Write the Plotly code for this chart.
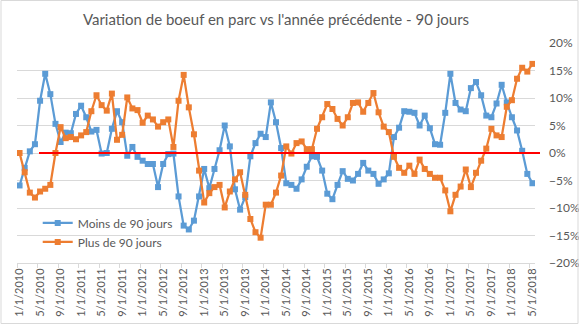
import plotly.graph_objects as go

# Monthly observations, January 2010 through May 2018
months = [f"{m}/1/{y}" for y in range(2010, 2019) for m in range(1, 13)][:101]

# Year-over-year change (%) in cattle inventory, animals under 90 days
moins_90 = [
    -5.9, -2.7, 0.3, 1.6, 9.5, 14.4, 10.7, 5.3, 2.0, 3.7,
    3.6, 7.1, 8.6, 6.5, 3.9, 4.2, -0.1, 0.0, 4.4, 7.6,
    5.6, -0.5, 1.1, -0.7, -1.4, -2.0, -2.0, -6.2, -2.0, -0.2,
    -0.1, -7.9, -13.2, -13.9, -12.3, -7.9, -2.9, -6.4, -2.9, 0.5,
    5.0, 1.2, -6.6, -10.3, -8.0, -0.6, 1.8, 3.5, 2.9, 9.2,
    5.6, 0.9, -5.5, -5.8, -6.5, -4.8, -2.5, -0.6, -0.7, -3.2,
    -7.4, -8.4, -5.8, -3.3, -4.7, -5.0, -3.8, -1.8, -3.2, -3.8,
    -5.6, -4.8, -3.7, 2.9, 4.6, 7.6, 7.5, 7.3, 5.0, 6.8,
    4.5, 1.6, 1.5, 7.3, 14.4, 9.1, 7.9, 7.6, 11.8, 12.9,
    10.5, 6.8, 6.5, 9.0, 12.4, 9.2, 6.5, 4.1, 0.4, -3.8,
    -5.5,
]

# Year-over-year change (%) in cattle inventory, animals over 90 days
plus_90 = [
    0.0, -3.5, -7.2, -8.1, -7.0, -6.5, -5.8, 0.0, 4.7, 2.7,
    2.9, 2.5, 3.2, 3.8, 7.6, 10.5, 8.7, 7.7, 10.8, 2.4,
    3.3, 10.1, 8.1, 7.8, 5.5, 6.8, 6.1, 4.8, 5.6, 6.1,
    1.1, 9.5, 14.2, 8.3, 3.4, -3.2, -9.0, -7.3, -6.2, -5.8,
    -9.9, -7.0, -4.8, -3.5, -7.6, -12.0, -14.4, -15.4, -9.4, -9.4,
    -7.2, -4.1, 1.2, -0.1, 1.8, 2.1, 0.7, 0.7, 4.4, 6.5,
    8.9, 8.0, 6.2, 5.0, 6.5, 9.1, 9.2, 7.5, 9.1, 10.9,
    7.4, 4.8, 3.8, -0.7, -2.7, -3.6, -2.3, -3.8, -1.2, -2.9,
    -3.8, -4.5, -4.5, -6.8, -10.6, -7.6, -6.1, -3.0, -6.2, -3.6,
    -1.4, 0.8, 4.4, 3.2, 2.9, 8.4, 9.6, 13.5, 15.5, 14.8,
    16.2,
]

BLUE = "#5B9BD5"
ORANGE = "#ED7D31"
GREY_TEXT = "#595959"
GRID = "#D9D9D9"
FONT = "Lato"

W, H = 579, 325
ML, MR, MT, MB = 17, 44, 43, 62
PW, PH = W - ML - MR, H - MT - MB

fig = go.Figure()
for name, vals, col in [("Moins de 90 jours", moins_90, BLUE),
                        ("Plus de 90 jours", plus_90, ORANGE)]:
    fig.add_trace(go.Scatter(
        x=months, y=vals, name=name, mode="lines+markers",
        line=dict(color=col, width=2.25),
        marker=dict(symbol="square", size=6, color=col),
    ))

# Red reference line at zero, running slightly past the right edge
fig.add_shape(type="line", xref="paper", yref="y",
              x0=(39 - ML) / PW, x1=(540 - ML) / PW, y0=0, y1=0,
              line=dict(color="#FF0000", width=2), layer="above")

# Light frame around the chart area
fig.add_shape(type="rect", xref="paper", yref="paper",
              x0=(1 - ML) / PW, x1=(W - 1 - ML) / PW,
              y0=-(MB - 1.5) / PH, y1=1 + (MT - 0.5) / PH,
              line=dict(color=GRID, width=1), fillcolor="rgba(0,0,0,0)")

fig.update_layout(
    width=W, height=H,
    margin=dict(l=ML, r=MR, t=MT, b=MB, autoexpand=False),
    paper_bgcolor="white", plot_bgcolor="white",
    font=dict(family=FONT, color=GREY_TEXT, size=12),
    title=dict(text="Variation de boeuf en parc vs l'année précédente - 90 jours",
               x=0.5, xref="paper", xanchor="center", y=0.94, yref="container",
               yanchor="middle", font=dict(size=15, color=GREY_TEXT, family=FONT)),
    showlegend=True,
    legend=dict(x=0.04, y=0.248, xanchor="left", yanchor="top",
                bgcolor="rgba(0,0,0,0)", font=dict(size=12, color=GREY_TEXT),
                tracegroupgap=2),
    xaxis=dict(type="category", range=[-0.5, 100.5], tickmode="linear",
               tick0=0, dtick=4, tickson="boundaries", tickangle=-90,
               ticks="outside", ticklen=4, tickcolor=GRID, automargin=False,
               showgrid=False, showline=True, linecolor=GRID, linewidth=1,
               tickfont=dict(size=11, color=GREY_TEXT)),
    yaxis=dict(side="right", range=[-20, 20], dtick=5, ticksuffix="%",
               showgrid=True, gridcolor=GRID, gridwidth=1, zeroline=False,
               showline=False, ticklabelstandoff=13, automargin=False,
               tickfont=dict(size=12, color=GREY_TEXT)),
)

fig.write_html("out.html")
